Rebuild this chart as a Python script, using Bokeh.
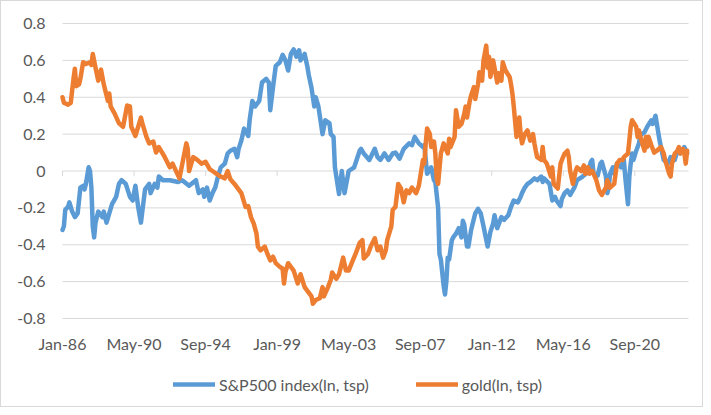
from bokeh.plotting import figure
from bokeh.models import (ColumnDataSource, Range1d, Legend, LegendItem)
from bokeh.core.properties import value
from bokeh.embed import file_html
from bokeh.resources import INLINE

# month index: 0 = Jan-86
spx_m = [0,1,2,4,5,6,7,9,11,13,15,16,17,19,20,21,22,23,24,26,27,29,30,32,34,36,39,41,43,46,49,51,53,55,57,58,60,63,64,67,69,70,73,78,84,87,
         92,97,99,102,103,105,107,109,111,113,115,118,120,122,125,127,128,130,132,135,136,138,140,143,145,148,150,151,153,155,158,160,162,164,166,168,170,172,173,176,178,179,181,183,184,186,
         189,191,194,195,197,198,201,203,205,208,212,216,217,219,223,227,229,231,234,237,240,242,245,248,252,254,256,259,262,263,265,268,270,
         271,273,274,275,277,278,279,280,281,283,284,286,288,290,291,292,294,295,297,300,302,304,306,309,311,313,314,316,319,321,324,326,328,331,333,334,336,338,340,343,345,348,349,350,354,356,358,359,
         362,363,365,367,369,372,374,378,382,384,385,386,389,391,392,395,396,397,398,400,401,403,406,408,409,411,412,413,414,415,417,419,420,423,425,428,429,431,432,434,435,437,440,442,445,447,449,452,454]
spx_v = [-0.32,-0.30,-0.21,-0.195,-0.17,-0.195,-0.22,-0.25,-0.23,-0.09,-0.08,-0.10,-0.07,0.02,0.00,-0.09,-0.30,-0.36,-0.28,-0.22,-0.23,-0.25,-0.22,-0.28,-0.23,-0.18,-0.14,-0.07,-0.05,-0.07,-0.14,-0.16,-0.08,-0.195,-0.28,-0.22,-0.10,-0.07,-0.12,-0.07,-0.09,-0.03,-0.05,-0.05,-0.06,-0.05,
         -0.08,-0.05,-0.12,-0.10,-0.14,-0.09,-0.16,-0.12,-0.09,-0.03,0.02,0.04,0.095,0.11,0.12,0.075,0.12,0.165,0.23,0.19,0.275,0.38,0.35,0.38,0.48,0.50,0.48,0.33,0.455,0.57,0.59,0.63,0.60,0.545,0.635,0.66,0.62,0.655,0.60,0.635,0.565,0.52,0.45,0.35,0.40,0.35,
         0.20,0.275,0.26,0.20,0.185,0.02,-0.125,0.00,-0.12,0.00,0.02,0.11,0.12,0.095,0.06,0.12,0.075,0.06,0.095,0.06,0.095,0.10,0.067,0.12,0.15,0.14,0.185,0.15,0.13,0.14,-0.015,0.02,-0.05,
         -0.06,-0.20,-0.45,-0.48,-0.62,-0.67,-0.60,-0.47,-0.48,-0.375,-0.36,-0.34,-0.31,-0.36,-0.27,-0.29,-0.41,-0.41,-0.32,-0.23,-0.205,-0.23,-0.30,-0.41,-0.33,-0.285,-0.24,-0.31,-0.25,-0.265,-0.24,-0.195,-0.16,-0.17,-0.14,-0.12,-0.09,-0.07,-0.06,-0.04,-0.05,-0.03,-0.06,-0.04,-0.07,-0.16,-0.14,-0.16,
         -0.19,-0.15,-0.12,-0.105,-0.13,-0.09,-0.05,-0.03,-0.005,0.05,0.06,-0.015,-0.025,0.04,0.05,-0.03,-0.12,-0.09,-0.015,0.02,-0.015,0.04,0.02,0.06,-0.03,-0.18,-0.03,0.04,0.095,0.06,0.11,0.15,0.195,0.21,0.24,0.275,0.255,0.30,0.255,0.165,0.13,0.06,0.04,0.075,0.06,0.11,0.095,0.13,0.095]

gold_m = [0,1,4,6,8,9,10,12,13,15,17,20,21,22,24,26,28,30,33,34,35,38,41,44,47,49,50,53,57,58,61,63,66,68,70,74,78,80,85,90,
          91,92,95,98,101,104,107,109,112,115,118,120,122,125,127,130,133,135,137,139,141,142,144,147,149,151,153,155,158,160,161,162,164,166,168,171,173,176,178,181,
          182,184,187,189,190,193,195,196,199,201,204,206,208,211,213,216,218,219,222,224,227,229,231,233,235,236,239,240,242,244,246,248,250,252,254,257,259,262,263,264,265,267,268,270,271,
          272,273,275,277,280,281,282,285,286,288,290,292,293,294,296,297,299,300,302,303,305,306,308,309,310,311,313,314,316,317,319,320,322,325,326,327,328,330,331,332,333,334,336,338,340,342,343,344,345,348,349,350,352,355,356,357,360,
          362,363,365,367,368,369,371,373,374,377,379,380,382,383,385,386,388,390,392,395,396,397,398,401,402,403,405,407,408,411,412,413,414,417,418,419,420,423,424,425,426,428,430,432,435,437,438,441,442,443,445,447,448,449,451,452,453,454]
gold_v = [0.40,0.37,0.36,0.37,0.50,0.555,0.46,0.47,0.50,0.59,0.58,0.59,0.575,0.635,0.56,0.49,0.55,0.47,0.38,0.42,0.35,0.31,0.26,0.24,0.355,0.35,0.24,0.19,0.29,0.26,0.185,0.15,0.16,0.10,0.13,0.08,0.02,0.04,-0.04,0.15,
          0.12,0.00,0.075,0.06,0.04,0.05,0.01,0.00,-0.015,-0.03,-0.04,0.00,-0.045,-0.07,-0.09,-0.12,-0.195,-0.19,-0.25,-0.285,-0.34,-0.41,-0.43,-0.41,-0.45,-0.485,-0.465,-0.50,-0.52,-0.53,-0.61,-0.55,-0.50,-0.52,-0.54,-0.61,-0.56,-0.63,-0.65,-0.68,
          -0.72,-0.70,-0.69,-0.63,-0.68,-0.63,-0.59,-0.55,-0.585,-0.56,-0.47,-0.54,-0.54,-0.485,-0.45,-0.39,-0.375,-0.475,-0.45,-0.41,-0.365,-0.43,-0.41,-0.47,-0.43,-0.375,-0.30,-0.21,-0.195,-0.07,-0.095,-0.17,-0.105,-0.12,-0.09,-0.12,-0.08,0.06,0.04,0.15,0.23,0.20,0.13,0.16,0.095,
          -0.04,-0.07,0.095,0.15,0.095,0.175,0.13,0.185,0.33,0.24,0.255,0.31,0.35,0.29,0.38,0.41,0.455,0.39,0.47,0.535,0.49,0.60,0.68,0.56,0.62,0.51,0.60,0.56,0.48,0.53,0.49,0.59,0.545,0.51,0.47,0.42,0.35,0.185,0.22,0.29,0.20,0.15,0.20,0.22,0.165,0.20,0.15,0.11,0.075,0.06,0.13,0.06,0.04,-0.03,0.02,-0.07,-0.095,
          0.04,0.06,0.095,0.11,0.075,0.00,-0.07,0.00,0.02,0.00,0.03,-0.015,0.02,-0.015,0.00,-0.015,-0.05,-0.105,-0.13,-0.09,-0.05,-0.07,-0.09,-0.07,-0.015,0.04,0.06,0.06,0.075,0.095,0.165,0.24,0.275,0.24,0.185,0.22,0.185,0.11,0.185,0.13,0.185,0.14,0.10,0.11,0.13,0.095,0.06,-0.015,-0.03,0.04,0.095,0.11,0.13,0.095,0.12,0.095,0.04,0.11]

x_ticks = [0, 52, 104, 156, 208, 260, 312, 364, 416]
x_labels = ["Jan-86", "May-90", "Sep-94", "Jan-99", "May-03", "Sep-07", "Jan-12", "May-16", "Sep-20"]
y_ticks = [-0.8, -0.6, -0.4, -0.2, 0, 0.2, 0.4, 0.6, 0.8]
y_labels = ["-0.8", "-0.6", "-0.4", "-0.2", "0", "0.2", "0.4", "0.6", "0.8"]
n_months = 455

FONT = "Lato"
FS = "16px"
TXT = "#595959"
GRID = "#d9d9d9"
BLUE = "#5B9BD5"
ORANGE = "#ED7D31"

# ---- layout in pixels: the frame covers the whole canvas; the plot area sits inside it
W, H = 703, 407
PA_LEFT, PA_TOP, PA_W, PA_H = 61, 22, 626, 295
px_x = PA_W / n_months
px_y = PA_H / (y_ticks[-1] - y_ticks[0])
x0 = -PA_LEFT / px_x
x1 = x0 + W / px_x
y1 = y_ticks[-1] + PA_TOP / px_y
y0 = y1 - H / px_y

p = figure(width=W, height=H, output_backend="svg", toolbar_location=None,
           x_range=Range1d(x0, x1), y_range=Range1d(y0, y1),
           x_axis_type=None, y_axis_type=None,
           min_border_left=0, min_border_right=0, min_border_top=0, min_border_bottom=0)
p.min_border = 0
p.outline_line_color = None
p.grid.visible = False
p.background_fill_color = "white"
p.border_fill_color = "white"
p.styles = {"border": "1px solid #d9d9d9"}

# horizontal gridlines
p.segment(x0=[0] * len(y_ticks), y0=y_ticks, x1=[n_months] * len(y_ticks), y1=y_ticks,
          line_color=GRID, line_width=1)
# category-axis tick marks on the zero line
tick_len = 5 / px_y
p.segment(x0=x_ticks, y0=[0] * len(x_ticks), x1=x_ticks, y1=[-tick_len] * len(x_ticks),
          line_color=GRID, line_width=1)

# value-axis labels
p.text(x=[-17 / px_x] * len(y_ticks), y=y_ticks, text=y_labels,
       text_font=value(FONT), text_font_size=FS, text_color=TXT,
       text_align="right", text_baseline="middle")
# category-axis labels
p.text(x=x_ticks, y=[y_ticks[0] - 25 / px_y] * len(x_ticks), text=x_labels,
       text_font=value(FONT), text_font_size=FS, text_color=TXT,
       text_align="center", text_baseline="middle")

s1 = ColumnDataSource(dict(x=spx_m, y=spx_v))
s2 = ColumnDataSource(dict(x=gold_m, y=gold_v))
r1 = p.line("x", "y", source=s1, line_color=BLUE, line_width=4.5, line_join="round", line_cap="round")
r2 = p.line("x", "y", source=s2, line_color=ORANGE, line_width=4.5, line_join="round", line_cap="round")

legend = Legend(items=[LegendItem(label="S&P500 index(ln, tsp)", renderers=[r1]),
                       LegendItem(label="gold(ln, tsp)", renderers=[r2])],
                orientation="horizontal", location=(172, 14))
legend.label_text_font = FONT
legend.label_text_font_size = FS
legend.label_text_color = TXT
legend.glyph_width = 42
legend.glyph_height = 20
legend.label_height = 20
legend.label_standoff = 4
legend.spacing = 47
legend.padding = 0
legend.margin = 0
legend.border_line_color = None
legend.background_fill_alpha = 0
p.add_layout(legend)

open("out.html", "w").write(file_html(p, INLINE))
